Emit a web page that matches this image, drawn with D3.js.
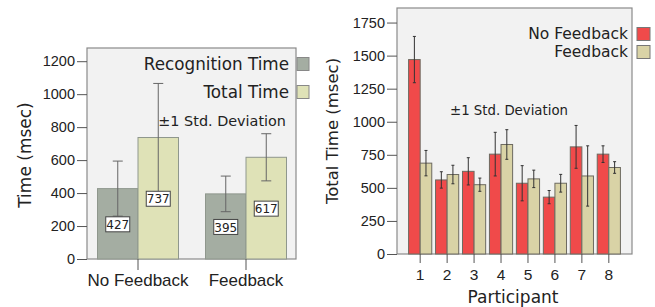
<!DOCTYPE html>
<html>
<head>
<meta charset="utf-8">
<script src="https://cdn.jsdelivr.net/npm/d3@7"></script>
<style>
  body { margin: 0; background: #fff; }
  svg { display: block; font-family: "DejaVu Sans", sans-serif; }
  .frame { fill: #f2f2f2; stroke: #8a8a8a; stroke-width: 1.2; }
  .tick line { stroke: #555; }
  .tick text { fill: #222; }
</style>
</head>
<body>
<script>
// left chart: mean times by condition
const conditions = ['No Feedback', 'Feedback'];
const measures = ['Recognition Time', 'Total Time'];
const recogMean = [427, 395];
const recogSD = [167, 108];
const totalMean = [737, 617];
const totalSD = [328, 143];
const leftTicks = [0, 200, 400, 600, 800, 1000, 1200];

// right chart: total time per participant
const participants = ['1', '2', '3', '4', '5', '6', '7', '8'];
const groups = ['No Feedback', 'Feedback'];
const noFbMean = [1470, 560, 625, 755, 535, 430, 810, 755];
const noFbSD = [175, 62, 103, 165, 133, 50, 162, 63];
const fbMean = [687, 601, 524, 828, 568, 535, 590, 654];
const fbSD = [96, 70, 50, 112, 66, 67, 228, 44];
const rightTicks = [0, 250, 500, 750, 1000, 1250, 1500, 1750];

const W = 655, H = 307;
const svg = d3.select('body').append('svg').attr('width', W).attr('height', H);

// ---------- left chart ----------
const L = { left: 87, right: 296, top: 48, bottom: 259 };
const leftColors = { 'Recognition Time': '#a4ada2', 'Total Time': '#dfe2b7' };

const yL = d3.scaleLinear().domain([0, 1280]).range([L.bottom, L.top]);
const xL = d3.scaleBand().domain(conditions).range([84, 300]).paddingInner(0.25).paddingOuter(0.125);
const xLsub = d3.scaleBand().domain(measures).range([0, xL.bandwidth()]);

const gL = svg.append('g');
gL.append('rect').attr('class', 'frame')
  .attr('x', L.left).attr('y', L.top)
  .attr('width', L.right - L.left).attr('height', L.bottom - L.top);

const leftRows = [];
conditions.forEach((c, i) => {
  leftRows.push({ c, m: 'Recognition Time', v: recogMean[i], sd: recogSD[i] });
  leftRows.push({ c, m: 'Total Time', v: totalMean[i], sd: totalSD[i] });
});

gL.selectAll('.bar').data(leftRows).enter().append('rect')
  .attr('x', d => xL(d.c) + xLsub(d.m))
  .attr('y', d => yL(d.v))
  .attr('width', xLsub.bandwidth())
  .attr('height', d => yL(0) - yL(d.v))
  .attr('fill', d => leftColors[d.m])
  .attr('stroke', '#8f978d').attr('stroke-width', 1);

// error bars
const errL = gL.selectAll('.err').data(leftRows).enter().append('g')
  .attr('transform', d => `translate(${xL(d.c) + xLsub(d.m) + xLsub.bandwidth() / 2},0)`);
errL.append('line').attr('y1', d => yL(d.v + d.sd)).attr('y2', d => yL(d.v - d.sd))
  .attr('stroke', '#666').attr('stroke-width', 1);
errL.append('line').attr('x1', -5).attr('x2', 5)
  .attr('y1', d => yL(d.v + d.sd)).attr('y2', d => yL(d.v + d.sd))
  .attr('stroke', '#666');
errL.append('line').attr('x1', -5).attr('x2', 5)
  .attr('y1', d => yL(d.v - d.sd)).attr('y2', d => yL(d.v - d.sd))
  .attr('stroke', '#666');

// value labels
const lab = gL.selectAll('.lab').data(leftRows).enter().append('g')
  .attr('transform', d => `translate(${xL(d.c) + xLsub(d.m) + xLsub.bandwidth() / 2},${yL(d.v / 2) + 1})`);
lab.append('rect').attr('x', -12).attr('y', -8).attr('width', 24).attr('height', 15)
  .attr('fill', '#fff').attr('stroke', '#444').attr('stroke-width', 1);
lab.append('text').attr('text-anchor', 'middle').attr('dy', '0.35em')
  .attr('font-size', 12).attr('fill', '#222').text(d => d.v);

// axes
gL.append('g').attr('transform', `translate(${L.left},0)`)
  .call(d3.axisLeft(yL).tickValues(leftTicks).tickFormat(d3.format('d')).tickSize(10).tickPadding(2))
  .call(g => g.select('.domain').remove())
  .call(g => g.selectAll('text').attr('font-size', 14.5));

gL.append('g').attr('transform', `translate(0,${L.bottom})`)
  .call(d3.axisBottom(xL).tickSize(11).tickPadding(4))
  .call(g => g.select('.domain').remove())
  .call(g => g.selectAll('text').attr('font-size', 17));

gL.append('text').attr('transform', 'translate(31,155) rotate(-90)')
  .attr('text-anchor', 'middle').attr('font-size', 17).attr('fill', '#222')
  .text('Time (msec)');

// legend
const legL = gL.selectAll('.leg').data(measures).enter().append('g')
  .attr('transform', (d, i) => `translate(0,${64 + i * 28})`);
legL.append('text').attr('x', 289).attr('dy', '0.35em').attr('text-anchor', 'end')
  .attr('font-size', 16.8).attr('fill', '#222').text(d => d);
legL.append('rect').attr('x', 297).attr('y', -6.5).attr('width', 12).attr('height', 13)
  .attr('fill', d => leftColors[d]).attr('stroke', '#888');
gL.append('text').attr('x', 286).attr('y', 121).attr('dy', '0.35em').attr('text-anchor', 'end')
  .attr('font-size', 14.4).attr('fill', '#222').text('±1 Std. Deviation');

// ---------- right chart ----------
const R = { left: 397, right: 632, top: 8, bottom: 254 };
const rightColors = { 'No Feedback': '#f04a4a', 'Feedback': '#d9d3a6' };

const yR = d3.scaleLinear().domain([0, 1860]).range([R.bottom, R.top]);
const xR = d3.scaleBand().domain(participants).range([R.left, R.right]).paddingInner(0.14).paddingOuter(0.43);
const xRsub = d3.scaleBand().domain(groups).range([0, xR.bandwidth()]);

const gR = svg.append('g');
gR.append('rect').attr('class', 'frame')
  .attr('x', R.left).attr('y', R.top)
  .attr('width', R.right - R.left).attr('height', R.bottom - R.top);

const rightRows = [];
participants.forEach((p, i) => {
  rightRows.push({ p, g: 'No Feedback', v: noFbMean[i], sd: noFbSD[i] });
  rightRows.push({ p, g: 'Feedback', v: fbMean[i], sd: fbSD[i] });
});

gR.selectAll('.bar').data(rightRows).enter().append('rect')
  .attr('x', d => xR(d.p) + xRsub(d.g))
  .attr('y', d => yR(d.v))
  .attr('width', xRsub.bandwidth())
  .attr('height', d => yR(0) - yR(d.v))
  .attr('fill', d => rightColors[d.g])
  .attr('stroke', '#6d6a60').attr('stroke-width', 1);

const errR = gR.selectAll('.err').data(rightRows).enter().append('g')
  .attr('transform', d => `translate(${xR(d.p) + xRsub(d.g) + xRsub.bandwidth() / 2},0)`);
errR.append('line').attr('y1', d => yR(d.v + d.sd)).attr('y2', d => yR(d.v - d.sd))
  .attr('stroke', '#333').attr('stroke-width', 1);
errR.append('line').attr('x1', -1.5).attr('x2', 1.5)
  .attr('y1', d => yR(d.v + d.sd)).attr('y2', d => yR(d.v + d.sd)).attr('stroke', '#333');
errR.append('line').attr('x1', -1.5).attr('x2', 1.5)
  .attr('y1', d => yR(d.v - d.sd)).attr('y2', d => yR(d.v - d.sd)).attr('stroke', '#333');

gR.append('g').attr('transform', `translate(${R.left},0)`)
  .call(d3.axisLeft(yR).tickValues(rightTicks).tickFormat(d3.format('d')).tickSize(10).tickPadding(2))
  .call(g => g.select('.domain').remove())
  .call(g => g.selectAll('text').attr('font-size', 14.5));

gR.append('g').attr('transform', `translate(0,${R.bottom})`)
  .call(d3.axisBottom(xR).tickSize(9).tickPadding(6))
  .call(g => g.select('.domain').remove())
  .call(g => g.selectAll('text').attr('font-size', 15.5));

gR.append('text').attr('transform', 'translate(338,131) rotate(-90)')
  .attr('text-anchor', 'middle').attr('font-size', 16.5).attr('fill', '#222')
  .text('Total Time (msec)');
gR.append('text').attr('x', 513).attr('y', 303).attr('text-anchor', 'middle')
  .attr('font-size', 17).attr('fill', '#222').text('Participant');

const legR = gR.selectAll('.leg').data(groups).enter().append('g')
  .attr('transform', (d, i) => `translate(0,${34 + i * 18})`);
legR.append('text').attr('x', 628).attr('dy', '0.35em').attr('text-anchor', 'end')
  .attr('font-size', 15.5).attr('fill', '#222').text(d => d);
legR.append('rect').attr('x', 637).attr('y', -6.5).attr('width', 13).attr('height', 13)
  .attr('fill', d => rightColors[d]).attr('stroke', '#777');
gR.append('text').attr('x', 450).attr('y', 110).attr('dy', '0.35em')
  .attr('font-size', 13.3).attr('fill', '#222').text('±1 Std. Deviation');
</script>
</body>
</html>
